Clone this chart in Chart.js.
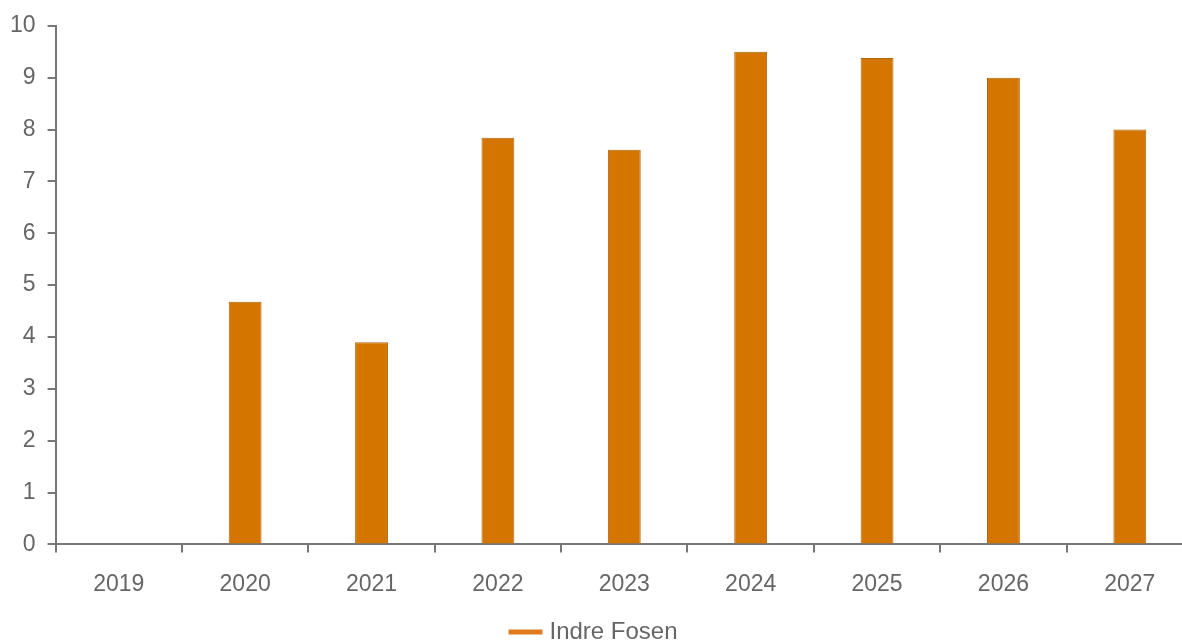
<!DOCTYPE html>
<html>
<head>
<meta charset="utf-8">
<script src="https://cdn.jsdelivr.net/npm/chart.js@4"></script>
<style>
  html, body { margin: 0; padding: 0; overflow: hidden; background: #fff; }
  #wrap { position: absolute; left: 0; top: 0; width: 1193px; height: 654px; }
</style>
</head>
<body>
<div id="wrap"><canvas id="chart"></canvas></div>
<script>
const years = ["2019", "2020", "2021", "2022", "2023", "2024", "2025", "2026", "2027"];
const values = [0, 4.68, 3.9, 7.84, 7.61, 9.5, 9.38, 9.0, 8.0];
const seriesName = "Indre Fosen";
const yTicks = [0, 1, 2, 3, 4, 5, 6, 7, 8, 9, 10];

const ctx = document.getElementById("chart");

Chart.defaults.font.family = "Liberation Sans, Arial, sans-serif";
Chart.defaults.color = "#666";

new Chart(ctx, {
  type: "bar",
  data: {
    labels: years,
    datasets: [
      {
        label: seriesName,
        data: values,
        backgroundColor: "#D47500",
        borderColor: "#B0650F",
        borderWidth: 1,
        barPercentage: 0.26,
        categoryPercentage: 1,
      },
    ],
  },
  options: {
    responsive: true,
    maintainAspectRatio: false,
    animation: false,
    layout: {
      padding: { top: 20, left: -2, right: 0, bottom: 0 },
    },
    plugins: {
      legend: {
        position: "bottom",
        labels: {
          font: { size: 24 },
          color: "#666",
          padding: 4,
          boxWidth: 28,
          generateLabels: (chart) =>
            chart.data.datasets.map((ds, i) => ({
              text: ds.label,
              fillStyle: "#E07A1A",
              strokeStyle: "#E07A1A",
              lineWidth: 5,
              pointStyle: "line",
              datasetIndex: i,
              fontColor: "#666",
            })),
          usePointStyle: true,
        },
      },
      tooltip: { enabled: false },
    },
    scales: {
      x: {
        grid: {
          offset: true,
          drawOnChartArea: false,
          drawTicks: true,
          tickLength: 8,
          color: "#777",
          lineWidth: 2,
        },
        border: { display: true, color: "#777", width: 2 },
        ticks: {
          font: { size: 23 },
          color: "#666",
          padding: 18,
        },
      },
      y: {
        min: 0,
        max: 10,
        afterBuildTicks: (axis) => {
          axis.ticks = yTicks.map((v) => ({ value: v }));
        },
        grid: {
          drawOnChartArea: false,
          drawTicks: true,
          tickLength: 8,
          color: "#777",
          lineWidth: 2,
        },
        border: { display: true, color: "#777", width: 2 },
        ticks: {
          font: { size: 23 },
          color: "#666",
          padding: 12,
        },
      },
    },
  },
});
</script>
</body>
</html>
